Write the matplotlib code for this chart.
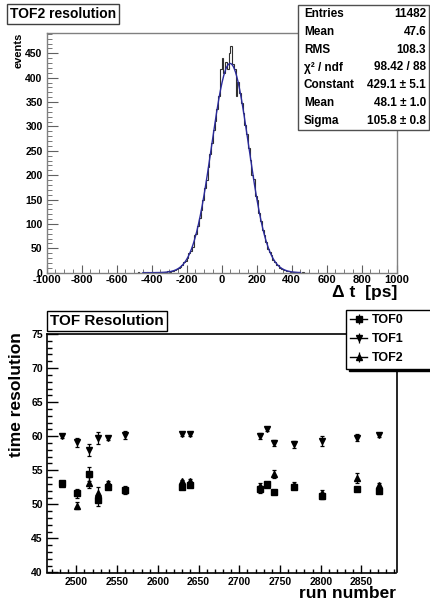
import numpy as np
import matplotlib
matplotlib.use("Agg")
from matplotlib import pyplot as plt
from matplotlib.patches import Rectangle
from matplotlib.lines import Line2D
from matplotlib.ticker import MultipleLocator

plt.rcParams['font.family'] = ['Liberation Sans', 'DejaVu Sans']
plt.rcParams['font.weight'] = 'bold'
plt.rcParams['axes.unicode_minus'] = False

# --- top panel: TOF2 delta-t histogram (10 ps bins, first bin starts at -480) ---
hist_start = -480
hist_width = 10
hist_counts = [1, 0, 0, 1, 0, 1, 0, 0, 1, 0, 1, 1, 0, 1, 2, 1, 2, 3,          # -480 .. -310
               2, 3, 4, 6, 7, 9, 12, 16, 21, 24,                              # -300 .. -210
               30, 40, 44, 52, 78, 80, 96, 112, 128, 150,                     # -200 .. -110
               174, 190, 216, 243, 266, 293, 312, 335, 362, 418,              # -100 .. -10
               440, 410, 432, 418, 450, 465, 428, 418, 362, 392,              # 0 .. 90
               368, 348, 328, 302, 285, 255, 232, 200, 192, 158,              # 100 .. 190
               150, 122, 106, 88, 78, 62, 48, 42, 36, 27,                     # 200 .. 290
               22, 16, 15, 10, 8, 6, 5, 3, 3, 2,                              # 300 .. 390
               1, 2, 1, 0, 1, 0, 1, 0, 0, 0]                                  # 400 .. 490

fit_constant = 429.1
fit_mean = 48.1
fit_sigma = 105.8

stat_names = ['Entries', 'Mean', 'RMS', 'χ² / ndf', 'Constant', 'Mean', 'Sigma']
stat_values = ['11482', '47.6', '108.3', '98.42 / 88', '429.1 ± 5.1', '48.1 ± 1.0', '105.8 ± 0.8']

# --- bottom panel: resolution vs run ---
runs = [2483, 2501, 2515, 2526, 2539, 2560, 2630, 2640, 2726, 2734, 2743, 2767, 2802, 2845, 2872]
tof0 = [53.2, 51.6, 54.5, 50.6, 52.5, 52.1, 52.5, 52.8, 52.2, 53.0, 51.8, 52.6, 51.2, 52.3, 52.0]
tof0_err = [0.3, 0.7, 1.0, 0.9, 0.3, 0.6, 0.2, 0.2, 0.5, 0.3, 0.3, 0.4, 0.4, 0.3, 0.3]
tof1 = [60.0, 59.1, 58.0, 59.7, 59.8, 60.2, 60.3, 60.3, 60.0, 61.0, 59.0, 58.8, 59.3, 59.8, 60.2]
tof1_err = [0.2, 0.7, 0.9, 0.9, 0.3, 0.6, 0.2, 0.2, 0.4, 0.2, 0.5, 0.5, 0.7, 0.5, 0.3]
tof2 = [53.0, 49.8, 53.2, 51.7, 53.2, 52.1, 53.4, 53.5, 52.7, 52.9, 54.5, 52.9, 51.6, 53.9, 52.9]
tof2_err = [0.2, 0.5, 0.8, 0.8, 0.2, 0.3, 0.2, 0.2, 0.4, 0.2, 0.6, 0.4, 0.5, 0.7, 0.3]
series_names = ['TOF0', 'TOF1', 'TOF2']

W, H = 430, 603
fig = plt.figure(figsize=(W / 100, H / 100), dpi=100)


def fbox(x0, y0, x1, y1):
    # pixel box (top-left origin) -> figure fraction rect
    return [x0 / W, 1 - y1 / H, (x1 - x0) / W, (y1 - y0) / H]


# ---------------- top panel ----------------
ax1 = fig.add_axes(fbox(46.7, 33.3, 396.7, 272.7))
edges = hist_start + hist_width * np.arange(len(hist_counts) + 1)
ax1.stairs(hist_counts, edges, color='#303030', linewidth=0.8)
xf = np.linspace(-450, 450, 600)
ax1.plot(xf, fit_constant * np.exp(-0.5 * ((xf - fit_mean) / fit_sigma) ** 2),
         color='#2a2a9c', linewidth=1.0)
ax1.set_xlim(-1000, 1000)
ax1.set_ylim(0, 491)
ax1.xaxis.set_major_locator(MultipleLocator(200))
ax1.xaxis.set_minor_locator(MultipleLocator(50))
ax1.yaxis.set_major_locator(MultipleLocator(50))
ax1.yaxis.set_minor_locator(MultipleLocator(10))
for s in ax1.spines.values():
    s.set_color('#808080')
    s.set_linewidth(1.0)
ax1.tick_params(which='both', direction='in', colors='#606060', labelcolor='black',
                top=False, right=False)
ax1.tick_params(axis='x', labelsize=8)
ax1.tick_params(axis='y', labelsize=7.5)
ax1.tick_params(axis='y', which='major', length=7.7, pad=3)
ax1.tick_params(axis='y', which='minor', length=3.6)
ax1.tick_params(axis='x', which='major', length=5.5, pad=2)
ax1.tick_params(axis='x', which='minor', length=3.0)
for lab in ax1.get_xticklabels() + ax1.get_yticklabels():
    lab.set_fontweight('bold')

fig.text(19 / W, 1 - 33 / H, 'events', rotation=90, ha='center', va='top',
         fontsize=8, fontweight='bold')
fig.text(397 / W, 1 - 297 / H, 'Δ t  [ps]', ha='right', va='baseline',
         fontsize=12.5, fontweight='bold')
fig.text(10 / W, 1 - 14 / H, 'TOF2 resolution', ha='left', va='center',
         fontsize=10, fontweight='bold',
         bbox=dict(boxstyle='square,pad=0.2', fc='white', ec='#404040', lw=1.0))

# stats box
sx0, sy0, sx1, sy1 = 298, 5, 429, 130
fig.add_artist(Rectangle((sx0 / W, 1 - sy1 / H), (sx1 - sx0) / W, (sy1 - sy0) / H,
                         transform=fig.transFigure, fc='white', ec='#505050',
                         lw=1.0, zorder=5))
row_h = (sy1 - sy0) / len(stat_names)
for i, (nm, val) in enumerate(zip(stat_names, stat_values)):
    yc = 1 - (sy0 + row_h * (i + 0.5)) / H
    fig.text(304 / W, yc, nm, ha='left', va='center', fontsize=8.5,
             fontweight='bold', zorder=6)
    fig.text(426 / W, yc, val, ha='right', va='center', fontsize=8.5,
             fontweight='bold', zorder=6)

# ---------------- bottom panel ----------------
ax2 = fig.add_axes(fbox(47, 334, 396.5, 572.5))
ekw = dict(linestyle='none', color='black', ecolor='black', elinewidth=0.9,
           capsize=1.5, capthick=0.9, markersize=3.8)
markers = ['s', 'v', '^']
for vals, errs, mk in zip([tof0, tof1, tof2], [tof0_err, tof1_err, tof2_err], markers):
    ax2.errorbar(runs, vals, yerr=errs, marker=mk, **ekw)
ax2.set_xlim(2464, 2893)
ax2.set_ylim(40, 75)
ax2.xaxis.set_major_locator(MultipleLocator(50))
ax2.xaxis.set_minor_locator(MultipleLocator(10))
ax2.yaxis.set_major_locator(MultipleLocator(5))
ax2.yaxis.set_minor_locator(MultipleLocator(1))
for s in ax2.spines.values():
    s.set_color('black')
    s.set_linewidth(1.2)
ax2.tick_params(which='both', direction='in', labelsize=7.5, top=False, right=False,
                width=1.0)
ax2.tick_params(axis='y', which='major', length=7.7, pad=3)
ax2.tick_params(axis='y', which='minor', length=3.6)
ax2.tick_params(axis='x', which='major', length=5.5, pad=3)
ax2.tick_params(axis='x', which='minor', length=3.0)
for lab in ax2.get_xticklabels() + ax2.get_yticklabels():
    lab.set_fontweight('bold')

fig.text(17 / W, 1 - 332 / H, 'time resolution', rotation=90, ha='center', va='top',
         fontsize=12.5, fontweight='bold')
fig.text(396 / W, 1 - 598 / H, 'run number', ha='right', va='baseline',
         fontsize=12.5, fontweight='bold')
fig.text(50 / W, 1 - 321 / H, 'TOF Resolution', ha='left', va='center',
         fontsize=11, fontweight='bold',
         bbox=dict(boxstyle='square,pad=0.2', fc='white', ec='black', lw=1.0))

handles = []
for mk in markers:
    handles.append((Line2D([], [], color='black', lw=1.0, marker=mk, markersize=3.8),
                    Line2D([], [], color='black', lw=0, marker='|', markersize=7,
                           markeredgewidth=0.9)))
leg = ax2.legend(handles, series_names,
                 loc='upper left', bbox_to_anchor=fbox(346, 310, 436, 369),
                 bbox_transform=fig.transFigure, mode='expand', borderaxespad=0,
                 fancybox=False, shadow={'color': 'black', 'alpha': 1},
                 prop={'weight': 'bold', 'size': 9}, handlelength=1.3,
                 handletextpad=0.4, labelspacing=0.55, borderpad=0.35,
                 frameon=True, edgecolor='black', framealpha=1)
leg.get_frame().set_linewidth(1.0)
leg.set_zorder(10)

fig.savefig('out.png', dpi=100)
